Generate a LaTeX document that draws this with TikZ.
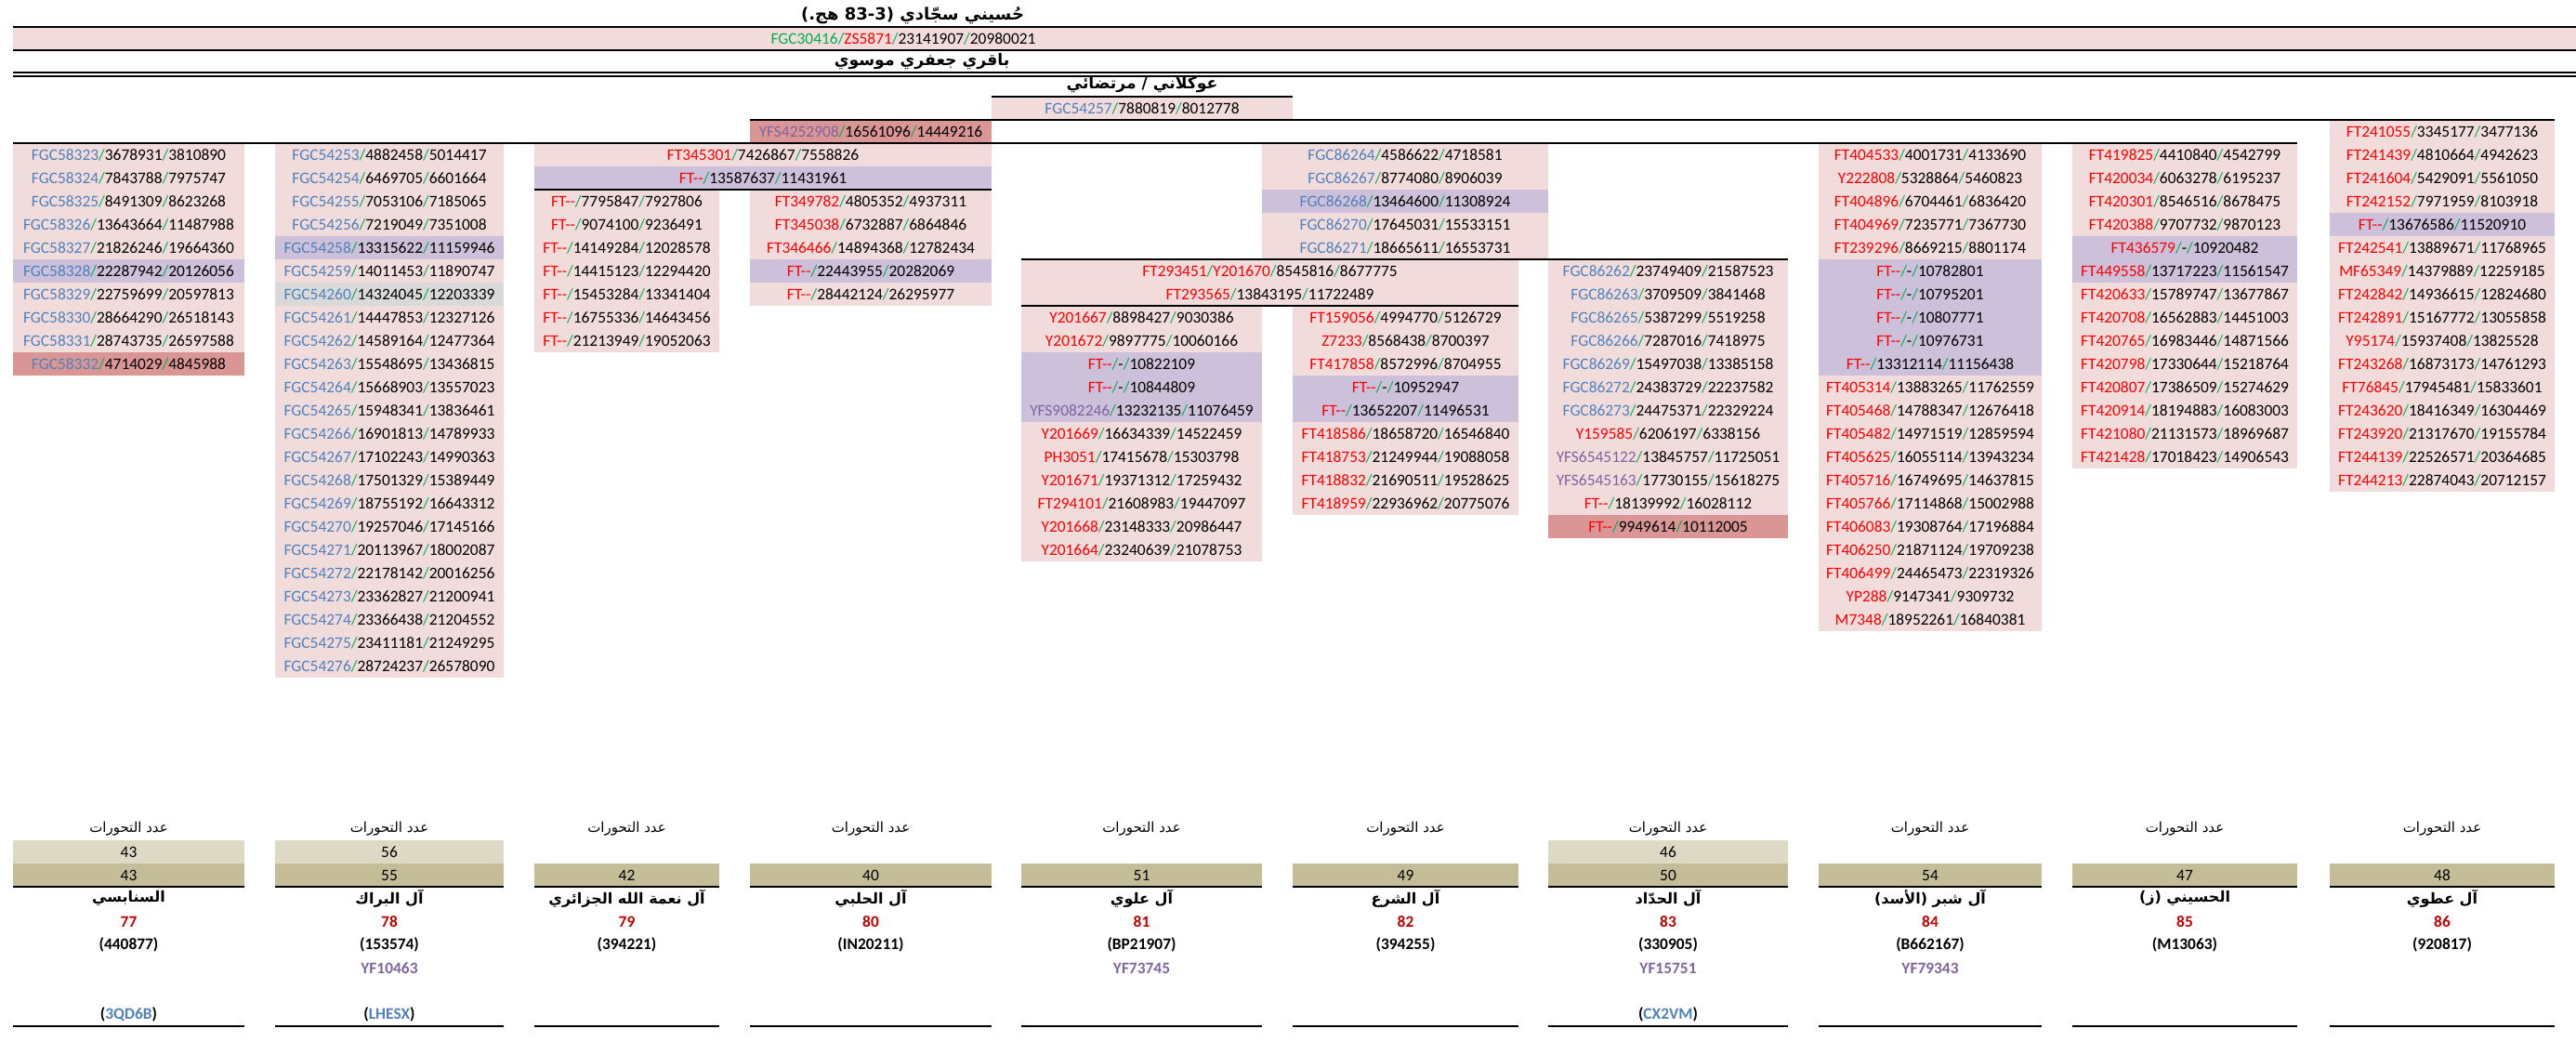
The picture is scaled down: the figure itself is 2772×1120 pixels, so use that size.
\documentclass[tikz,border=0pt]{standalone}
\usepackage{fontspec}
\setmainfont{Carlito}
\newfontfamily\arabicfont[Script=Arabic]{DejaVu Sans}
\TeXXeTstate=1

\definecolor{pinkcell}{HTML}{F2DCDB}
\definecolor{purplecell}{HTML}{CCC0DA}
\definecolor{darkcell}{HTML}{DA9694}
\definecolor{graycell}{HTML}{D9D9D9}
\definecolor{tanlight}{HTML}{DDD9C4}
\definecolor{tandark}{HTML}{C4BD97}
\definecolor{fgcblue}{HTML}{4F81BD}
\definecolor{ftred}{HTML}{FF0000}
\definecolor{slashgreen}{HTML}{00B050}
\definecolor{yfspurple}{HTML}{8064A2}
\definecolor{numred}{HTML}{C00000}

\newcommand{\gs}{\textcolor{slashgreen}{/}}
\newcommand{\fgc}[1]{\textcolor{fgcblue}{#1}}
\newcommand{\ftr}[1]{\textcolor{ftred}{#1}}
\newcommand{\yfs}[1]{\textcolor{yfspurple}{#1}}
\newcommand{\ftn}{\textcolor{ftred}{FT-{}-}}
\newcommand{\arr}[1]{{\arabicfont\beginR #1\endR}}
\newcommand{\arb}[1]{{\arabicfont\bfseries\beginR #1\endR}}

\tikzset{
  cell/.style={inner sep=0pt, minimum height=12.5pt, font=\fontsize{8.7}{10}\selectfont},
  pk/.style={cell, fill=pinkcell},
  pu/.style={cell, fill=purplecell},
  dk/.style={cell, fill=darkcell},
  gy/.style={cell, fill=graycell},
  tl/.style={cell, fill=tanlight},
  td/.style={cell, fill=tandark},
  w1/.style={minimum width=124.5pt},
  w2/.style={minimum width=123pt},
  w3/.style={minimum width=99.5pt},
  w4/.style={minimum width=130pt},
  w34/.style={minimum width=246pt},
  wS45/.style={minimum width=162pt},
  w5/.style={minimum width=129.5pt},
  w6/.style={minimum width=121.5pt},
  w56/.style={minimum width=267.5pt},
  wS56/.style={minimum width=154pt},
  w7/.style={minimum width=129pt},
  w8/.style={minimum width=120pt},
  w9/.style={minimum width=121pt},
  w10/.style={minimum width=121pt},
  rule/.style={line width=1.3pt},
  thinrule/.style={line width=0.6pt},
  arhead/.style={inner sep=0pt, font=\fontsize{7.5}{9}\selectfont},
  tophead/.style={inner sep=0pt, font=\fontsize{8.6}{10}\selectfont},
  clan/.style={inner sep=0pt, font=\fontsize{8}{9}\selectfont},
  num/.style={inner sep=0pt, font=\fontsize{8.7}{10}\selectfont\bfseries, text=numred},
  code/.style={inner sep=0pt, font=\fontsize{8.7}{10}\selectfont\bfseries},
  yf/.style={inner sep=0pt, font=\fontsize{8.7}{10}\selectfont\bfseries, text=yfspurple}
}

\begin{document}
\begin{tikzpicture}[x=0.5pt, y=-0.5pt]
\useasboundingbox (0,0) rectangle (2772,1120);

% Root
\node[tophead, font=\fontsize{9}{10}\selectfont] (t0) at (982,16.5) {\arb{حُسيني سجّادي \hbox{(}\beginL 83-3\endL{} هج.\hbox{)}}};
\fill[pinkcell] (14,29) rectangle (2772,54);
\node[cell] (t1) at (972,41.5) {\textcolor{slashgreen}{FGC30416}\gs\ftr{ZS5871}\gs 23141907\gs 20980021};
\node[tophead] (t2) at (992,66.5) {\arb{باقري جعفري موسوي}};
\node[tophead] (t3) at (1229,91.5) {\arb{عوكلاني / مرتضائي}};
\node[pk, wS45] (t4) at (1229,116.5) {\fgc{FGC54257}\gs 7880819\gs 8012778};
\node[dk, w4] (t5) at (937,141.5) {\yfs{YFS4252908}\gs 16561096\gs 14449216};

% Branch FGC58323
\node[pk, w1] (a1) at (138.5,166.5) {\fgc{FGC58323}\gs 3678931\gs 3810890};
\node[pk, w1] (a2) at (138.5,191.5) {\fgc{FGC58324}\gs 7843788\gs 7975747};
\node[pk, w1] (a3) at (138.5,216.5) {\fgc{FGC58325}\gs 8491309\gs 8623268};
\node[pk, w1] (a4) at (138.5,241.5) {\fgc{FGC58326}\gs 13643664\gs 11487988};
\node[pk, w1] (a5) at (138.5,266.5) {\fgc{FGC58327}\gs 21826246\gs 19664360};
\node[pu, w1] (a6) at (138.5,291.5) {\fgc{FGC58328}\gs 22287942\gs 20126056};
\node[pk, w1] (a7) at (138.5,316.5) {\fgc{FGC58329}\gs 22759699\gs 20597813};
\node[pk, w1] (a8) at (138.5,341.5) {\fgc{FGC58330}\gs 28664290\gs 26518143};
\node[pk, w1] (a9) at (138.5,366.5) {\fgc{FGC58331}\gs 28743735\gs 26597588};
\node[dk, w1] (a10) at (138.5,391.5) {\fgc{FGC58332}\gs 4714029\gs 4845988};

% Branch FGC54253
\node[pk, w2] (b1) at (419,166.5) {\fgc{FGC54253}\gs 4882458\gs 5014417};
\node[pk, w2] (b2) at (419,191.5) {\fgc{FGC54254}\gs 6469705\gs 6601664};
\node[pk, w2] (b3) at (419,216.5) {\fgc{FGC54255}\gs 7053106\gs 7185065};
\node[pk, w2] (b4) at (419,241.5) {\fgc{FGC54256}\gs 7219049\gs 7351008};
\node[pu, w2] (b5) at (419,266.5) {\fgc{FGC54258}\gs 13315622\gs 11159946};
\node[pk, w2] (b6) at (419,291.5) {\fgc{FGC54259}\gs 14011453\gs 11890747};
\node[gy, w2] (b7) at (419,316.5) {\fgc{FGC54260}\gs 14324045\gs 12203339};
\node[pk, w2] (b8) at (419,341.5) {\fgc{FGC54261}\gs 14447853\gs 12327126};
\node[pk, w2] (b9) at (419,366.5) {\fgc{FGC54262}\gs 14589164\gs 12477364};
\node[pk, w2] (b10) at (419,391.5) {\fgc{FGC54263}\gs 15548695\gs 13436815};
\node[pk, w2] (b11) at (419,416.5) {\fgc{FGC54264}\gs 15668903\gs 13557023};
\node[pk, w2] (b12) at (419,441.5) {\fgc{FGC54265}\gs 15948341\gs 13836461};
\node[pk, w2] (b13) at (419,466.5) {\fgc{FGC54266}\gs 16901813\gs 14789933};
\node[pk, w2] (b14) at (419,491.5) {\fgc{FGC54267}\gs 17102243\gs 14990363};
\node[pk, w2] (b15) at (419,516.5) {\fgc{FGC54268}\gs 17501329\gs 15389449};
\node[pk, w2] (b16) at (419,541.5) {\fgc{FGC54269}\gs 18755192\gs 16643312};
\node[pk, w2] (b17) at (419,566.5) {\fgc{FGC54270}\gs 19257046\gs 17145166};
\node[pk, w2] (b18) at (419,591.5) {\fgc{FGC54271}\gs 20113967\gs 18002087};
\node[pk, w2] (b19) at (419,616.5) {\fgc{FGC54272}\gs 22178142\gs 20016256};
\node[pk, w2] (b20) at (419,641.5) {\fgc{FGC54273}\gs 23362827\gs 21200941};
\node[pk, w2] (b21) at (419,666.5) {\fgc{FGC54274}\gs 23366438\gs 21204552};
\node[pk, w2] (b22) at (419,691.5) {\fgc{FGC54275}\gs 23411181\gs 21249295};
\node[pk, w2] (b23) at (419,716.5) {\fgc{FGC54276}\gs 28724237\gs 26578090};

% Branch FT345301
\node[pk, w34] (c0) at (821,166.5) {\ftr{FT345301}\gs 7426867\gs 7558826};
\node[pu, w34] (c00) at (821,191.5) {\ftn\gs 13587637\gs 11431961};
\node[pk, w3] (c1) at (674.5,216.5) {\ftn\gs 7795847\gs 7927806};
\node[pk, w3] (c2) at (674.5,241.5) {\ftn\gs 9074100\gs 9236491};
\node[pk, w3] (c3) at (674.5,266.5) {\ftn\gs 14149284\gs 12028578};
\node[pk, w3] (c4) at (674.5,291.5) {\ftn\gs 14415123\gs 12294420};
\node[pk, w3] (c5) at (674.5,316.5) {\ftn\gs 15453284\gs 13341404};
\node[pk, w3] (c6) at (674.5,341.5) {\ftn\gs 16755336\gs 14643456};
\node[pk, w3] (c7) at (674.5,366.5) {\ftn\gs 21213949\gs 19052063};
\node[pk, w4] (e1) at (937,216.5) {\ftr{FT349782}\gs 4805352\gs 4937311};
\node[pk, w4] (e2) at (937,241.5) {\ftr{FT345038}\gs 6732887\gs 6864846};
\node[pk, w4] (e3) at (937,266.5) {\ftr{FT346466}\gs 14894368\gs 12782434};
\node[pu, w4] (e4) at (937,291.5) {\ftn\gs 22443955\gs 20282069};
\node[pk, w4] (e5) at (937,316.5) {\ftn\gs 28442124\gs 26295977};

% Branch FGC86264
\node[pk, wS56] (d1) at (1512,166.5) {\fgc{FGC86264}\gs 4586622\gs 4718581};
\node[pk, wS56] (d2) at (1512,191.5) {\fgc{FGC86267}\gs 8774080\gs 8906039};
\node[pu, wS56] (d3) at (1512,216.5) {\fgc{FGC86268}\gs 13464600\gs 11308924};
\node[pk, wS56] (d4) at (1512,241.5) {\fgc{FGC86270}\gs 17645031\gs 15533151};
\node[pk, wS56] (d5) at (1512,266.5) {\fgc{FGC86271}\gs 18665611\gs 16553731};
\node[pk, w56] (d6) at (1366.5,291.5) {\ftr{FT293451}\gs\ftr{Y201670}\gs 8545816\gs 8677775};
\node[pk, w56] (d7) at (1366.5,316.5) {\ftr{FT293565}\gs 13843195\gs 11722489};
% Branch Y201667
\node[pk, w5] (f1) at (1228.5,341.5) {\ftr{Y201667}\gs 8898427\gs 9030386};
\node[pk, w5] (f2) at (1228.5,366.5) {\ftr{Y201672}\gs 9897775\gs 10060166};
\node[pu, w5] (f3) at (1228.5,391.5) {\ftn\gs -\gs 10822109};
\node[pu, w5] (f4) at (1228.5,416.5) {\ftn\gs -\gs 10844809};
\node[pu, w5] (f5) at (1228.5,441.5) {\yfs{YFS9082246}\gs 13232135\gs 11076459};
\node[pk, w5] (f6) at (1228.5,466.5) {\ftr{Y201669}\gs 16634339\gs 14522459};
\node[pk, w5] (f7) at (1228.5,491.5) {\ftr{PH3051}\gs 17415678\gs 15303798};
\node[pk, w5] (f8) at (1228.5,516.5) {\ftr{Y201671}\gs 19371312\gs 17259432};
\node[pk, w5] (f9) at (1228.5,541.5) {\ftr{FT294101}\gs 21608983\gs 19447097};
\node[pk, w5] (f10) at (1228.5,566.5) {\ftr{Y201668}\gs 23148333\gs 20986447};
\node[pk, w5] (f11) at (1228.5,591.5) {\ftr{Y201664}\gs 23240639\gs 21078753};
% Branch FT159056
\node[pk, w6] (g1) at (1512.5,341.5) {\ftr{FT159056}\gs 4994770\gs 5126729};
\node[pk, w6] (g2) at (1512.5,366.5) {\ftr{Z7233}\gs 8568438\gs 8700397};
\node[pk, w6] (g3) at (1512.5,391.5) {\ftr{FT417858}\gs 8572996\gs 8704955};
\node[pu, w6] (g4) at (1512.5,416.5) {\ftn\gs -\gs 10952947};
\node[pu, w6] (g5) at (1512.5,441.5) {\ftn\gs 13652207\gs 11496531};
\node[pk, w6] (g6) at (1512.5,466.5) {\ftr{FT418586}\gs 18658720\gs 16546840};
\node[pk, w6] (g7) at (1512.5,491.5) {\ftr{FT418753}\gs 21249944\gs 19088058};
\node[pk, w6] (g8) at (1512.5,516.5) {\ftr{FT418832}\gs 21690511\gs 19528625};
\node[pk, w6] (g9) at (1512.5,541.5) {\ftr{FT418959}\gs 22936962\gs 20775076};

% Branch FGC86262
\node[pk, w7] (h1) at (1795,291.5) {\fgc{FGC86262}\gs 23749409\gs 21587523};
\node[pk, w7] (h2) at (1795,316.5) {\fgc{FGC86263}\gs 3709509\gs 3841468};
\node[pk, w7] (h3) at (1795,341.5) {\fgc{FGC86265}\gs 5387299\gs 5519258};
\node[pk, w7] (h4) at (1795,366.5) {\fgc{FGC86266}\gs 7287016\gs 7418975};
\node[pk, w7] (h5) at (1795,391.5) {\fgc{FGC86269}\gs 15497038\gs 13385158};
\node[pk, w7] (h6) at (1795,416.5) {\fgc{FGC86272}\gs 24383729\gs 22237582};
\node[pk, w7] (h7) at (1795,441.5) {\fgc{FGC86273}\gs 24475371\gs 22329224};
\node[pk, w7] (h8) at (1795,466.5) {\ftr{Y159585}\gs 6206197\gs 6338156};
\node[pk, w7] (h9) at (1795,491.5) {\yfs{YFS6545122}\gs 13845757\gs 11725051};
\node[pk, w7] (h10) at (1795,516.5) {\yfs{YFS6545163}\gs 17730155\gs 15618275};
\node[pk, w7] (h11) at (1795,541.5) {\ftn\gs 18139992\gs 16028112};
\node[dk, w7] (h12) at (1795,566.5) {\ftn\gs 9949614\gs 10112005};

% Branch FT404533
\node[pk, w8] (i1) at (2077,166.5) {\ftr{FT404533}\gs 4001731\gs 4133690};
\node[pk, w8] (i2) at (2077,191.5) {\ftr{Y222808}\gs 5328864\gs 5460823};
\node[pk, w8] (i3) at (2077,216.5) {\ftr{FT404896}\gs 6704461\gs 6836420};
\node[pk, w8] (i4) at (2077,241.5) {\ftr{FT404969}\gs 7235771\gs 7367730};
\node[pk, w8] (i5) at (2077,266.5) {\ftr{FT239296}\gs 8669215\gs 8801174};
\node[pu, w8] (i6) at (2077,291.5) {\ftn\gs -\gs 10782801};
\node[pu, w8] (i7) at (2077,316.5) {\ftn\gs -\gs 10795201};
\node[pu, w8] (i8) at (2077,341.5) {\ftn\gs -\gs 10807771};
\node[pu, w8] (i9) at (2077,366.5) {\ftn\gs -\gs 10976731};
\node[pu, w8] (i10) at (2077,391.5) {\ftn\gs 13312114\gs 11156438};
\node[pk, w8] (i11) at (2077,416.5) {\ftr{FT405314}\gs 13883265\gs 11762559};
\node[pk, w8] (i12) at (2077,441.5) {\ftr{FT405468}\gs 14788347\gs 12676418};
\node[pk, w8] (i13) at (2077,466.5) {\ftr{FT405482}\gs 14971519\gs 12859594};
\node[pk, w8] (i14) at (2077,491.5) {\ftr{FT405625}\gs 16055114\gs 13943234};
\node[pk, w8] (i15) at (2077,516.5) {\ftr{FT405716}\gs 16749695\gs 14637815};
\node[pk, w8] (i16) at (2077,541.5) {\ftr{FT405766}\gs 17114868\gs 15002988};
\node[pk, w8] (i17) at (2077,566.5) {\ftr{FT406083}\gs 19308764\gs 17196884};
\node[pk, w8] (i18) at (2077,591.5) {\ftr{FT406250}\gs 21871124\gs 19709238};
\node[pk, w8] (i19) at (2077,616.5) {\ftr{FT406499}\gs 24465473\gs 22319326};
\node[pk, w8] (i20) at (2077,641.5) {\ftr{YP288}\gs 9147341\gs 9309732};
\node[pk, w8] (i21) at (2077,666.5) {\ftr{M7348}\gs 18952261\gs 16840381};

% Branch FT419825
\node[pk, w9] (j1) at (2351,166.5) {\ftr{FT419825}\gs 4410840\gs 4542799};
\node[pk, w9] (j2) at (2351,191.5) {\ftr{FT420034}\gs 6063278\gs 6195237};
\node[pk, w9] (j3) at (2351,216.5) {\ftr{FT420301}\gs 8546516\gs 8678475};
\node[pk, w9] (j4) at (2351,241.5) {\ftr{FT420388}\gs 9707732\gs 9870123};
\node[pu, w9] (j5) at (2351,266.5) {\ftr{FT436579}\gs -\gs 10920482};
\node[pu, w9] (j6) at (2351,291.5) {\ftr{FT449558}\gs 13717223\gs 11561547};
\node[pk, w9] (j7) at (2351,316.5) {\ftr{FT420633}\gs 15789747\gs 13677867};
\node[pk, w9] (j8) at (2351,341.5) {\ftr{FT420708}\gs 16562883\gs 14451003};
\node[pk, w9] (j9) at (2351,366.5) {\ftr{FT420765}\gs 16983446\gs 14871566};
\node[pk, w9] (j10) at (2351,391.5) {\ftr{FT420798}\gs 17330644\gs 15218764};
\node[pk, w9] (j11) at (2351,416.5) {\ftr{FT420807}\gs 17386509\gs 15274629};
\node[pk, w9] (j12) at (2351,441.5) {\ftr{FT420914}\gs 18194883\gs 16083003};
\node[pk, w9] (j13) at (2351,466.5) {\ftr{FT421080}\gs 21131573\gs 18969687};
\node[pk, w9] (j14) at (2351,491.5) {\ftr{FT421428}\gs 17018423\gs 14906543};

% Branch FT241055
\node[pk, w10] (k1) at (2628,141.5) {\ftr{FT241055}\gs 3345177\gs 3477136};
\node[pk, w10] (k2) at (2628,166.5) {\ftr{FT241439}\gs 4810664\gs 4942623};
\node[pk, w10] (k3) at (2628,191.5) {\ftr{FT241604}\gs 5429091\gs 5561050};
\node[pk, w10] (k4) at (2628,216.5) {\ftr{FT242152}\gs 7971959\gs 8103918};
\node[pu, w10] (k5) at (2628,241.5) {\ftn\gs 13676586\gs 11520910};
\node[pk, w10] (k6) at (2628,266.5) {\ftr{FT242541}\gs 13889671\gs 11768965};
\node[pk, w10] (k7) at (2628,291.5) {\ftr{MF65349}\gs 14379889\gs 12259185};
\node[pk, w10] (k8) at (2628,316.5) {\ftr{FT242842}\gs 14936615\gs 12824680};
\node[pk, w10] (k9) at (2628,341.5) {\ftr{FT242891}\gs 15167772\gs 13055858};
\node[pk, w10] (k10) at (2628,366.5) {\ftr{Y95174}\gs 15937408\gs 13825528};
\node[pk, w10] (k11) at (2628,391.5) {\ftr{FT243268}\gs 16873173\gs 14761293};
\node[pk, w10] (k12) at (2628,416.5) {\ftr{FT76845}\gs 17945481\gs 15833601};
\node[pk, w10] (k13) at (2628,441.5) {\ftr{FT243620}\gs 18416349\gs 16304469};
\node[pk, w10] (k14) at (2628,466.5) {\ftr{FT243920}\gs 21317670\gs 19155784};
\node[pk, w10] (k15) at (2628,491.5) {\ftr{FT244139}\gs 22526571\gs 20364685};
\node[pk, w10] (k16) at (2628,516.5) {\ftr{FT244213}\gs 22874043\gs 20712157};

% Rules
\draw[rule] (14,29) -- (2772,29);
\draw[rule] (14,54) -- (2772,54);
\draw[thinrule] (14,78) -- (2772,78);
\draw[thinrule] (14,82) -- (2772,82);
\draw[rule] (1067,104) -- (1391,104);
\draw[rule] (807,129) -- (2749,129);
\draw[rule] (14,154) -- (2472,154);
\draw[rule] (575,204) -- (1067,204);
\draw[rule] (1099,279) -- (1924,279);
\draw[rule] (1099,329) -- (1634,329);

% Clans
\node[arhead] (m1) at (138.5,891.5) {\arr{عدد التحورات}};
\node[tl, w1] (l1) at (138.5,916.5) {43};
\node[td, w1] (s1) at (138.5,941.5) {43};
\draw[thinrule] (14,954) -- (263,954);
\node[clan] (n1) at (138.5,966.5) {\arb{السنابسي}};
\node[num] (r1) at (138.5,991.5) {77};
\node[code] (o1) at (138.5,1016.5) {(440877)};
\node[code] (q1) at (138.5,1091.5) {(\textcolor{fgcblue}{3QD6B})};
\draw[thinrule] (14,1104) -- (263,1104);

\node[arhead] (m2) at (419,891.5) {\arr{عدد التحورات}};
\node[tl, w2] (l2) at (419,916.5) {56};
\node[td, w2] (s2) at (419,941.5) {55};
\draw[thinrule] (296,954) -- (542,954);
\node[clan] (n2) at (419,966.5) {\arb{آل البراك}};
\node[num] (r2) at (419,991.5) {78};
\node[code] (o2) at (419,1016.5) {(153574)};
\node[yf] (y2) at (419,1041.5) {YF10463};
\node[code] (q2) at (419,1091.5) {(\textcolor{fgcblue}{LHESX})};
\draw[thinrule] (296,1104) -- (542,1104);

\node[arhead] (m3) at (674.5,891.5) {\arr{عدد التحورات}};
\node[td, w3] (s3) at (674.5,941.5) {42};
\draw[thinrule] (575,954) -- (774,954);
\node[clan] (n3) at (674.5,966.5) {\arb{آل نعمة الله الجزائري}};
\node[num] (r3) at (674.5,991.5) {79};
\node[code] (o3) at (674.5,1016.5) {(394221)};
\draw[thinrule] (575,1104) -- (774,1104);

\node[arhead] (m4) at (937,891.5) {\arr{عدد التحورات}};
\node[td, w4] (s4) at (937,941.5) {40};
\draw[thinrule] (807,954) -- (1067,954);
\node[clan] (n4) at (937,966.5) {\arb{آل الحلبي}};
\node[num] (r4) at (937,991.5) {80};
\node[code] (o4) at (937,1016.5) {(IN20211)};
\draw[thinrule] (807,1104) -- (1067,1104);

\node[arhead] (m5) at (1228.5,891.5) {\arr{عدد التحورات}};
\node[td, w5] (s5) at (1228.5,941.5) {51};
\draw[thinrule] (1099,954) -- (1358,954);
\node[clan] (n5) at (1228.5,966.5) {\arb{آل علوي}};
\node[num] (r5) at (1228.5,991.5) {81};
\node[code] (o5) at (1228.5,1016.5) {(BP21907)};
\node[yf] (y5) at (1228.5,1041.5) {YF73745};
\draw[thinrule] (1099,1104) -- (1358,1104);

\node[arhead] (m6) at (1512.5,891.5) {\arr{عدد التحورات}};
\node[td, w6] (s6) at (1512.5,941.5) {49};
\draw[thinrule] (1391,954) -- (1634,954);
\node[clan] (n6) at (1512.5,966.5) {\arb{آل الشرع}};
\node[num] (r6) at (1512.5,991.5) {82};
\node[code] (o6) at (1512.5,1016.5) {(394255)};
\draw[thinrule] (1391,1104) -- (1634,1104);

\node[arhead] (m7) at (1795,891.5) {\arr{عدد التحورات}};
\node[tl, w7] (l7) at (1795,916.5) {46};
\node[td, w7] (s7) at (1795,941.5) {50};
\draw[thinrule] (1666,954) -- (1924,954);
\node[clan] (n7) at (1795,966.5) {\arb{آل الحدّاد}};
\node[num] (r7) at (1795,991.5) {83};
\node[code] (o7) at (1795,1016.5) {(330905)};
\node[yf] (y7) at (1795,1041.5) {YF15751};
\node[code] (q7) at (1795,1091.5) {(\textcolor{fgcblue}{CX2VM})};
\draw[thinrule] (1666,1104) -- (1924,1104);

\node[arhead] (m8) at (2077,891.5) {\arr{عدد التحورات}};
\node[td, w8] (s8) at (2077,941.5) {54};
\draw[thinrule] (1957,954) -- (2197,954);
\node[clan] (n8) at (2077,966.5) {\arb{آل شبر (الأسد)}};
\node[num] (r8) at (2077,991.5) {84};
\node[code] (o8) at (2077,1016.5) {(B662167)};
\node[yf] (y8) at (2077,1041.5) {YF79343};
\draw[thinrule] (1957,1104) -- (2197,1104);

\node[arhead] (m9) at (2351,891.5) {\arr{عدد التحورات}};
\node[td, w9] (s9) at (2351,941.5) {47};
\draw[thinrule] (2230,954) -- (2472,954);
\node[clan] (n9) at (2351,966.5) {\arb{الحسيني (ز)}};
\node[num] (r9) at (2351,991.5) {85};
\node[code] (o9) at (2351,1016.5) {(M13063)};
\draw[thinrule] (2230,1104) -- (2472,1104);

\node[arhead] (m10) at (2628,891.5) {\arr{عدد التحورات}};
\node[td, w10] (s10) at (2628,941.5) {48};
\draw[thinrule] (2507,954) -- (2749,954);
\node[clan] (n10) at (2628,966.5) {\arb{آل عطوي}};
\node[num] (r10) at (2628,991.5) {86};
\node[code] (o10) at (2628,1016.5) {(920817)};
\draw[thinrule] (2507,1104) -- (2749,1104);
\end{tikzpicture}
\end{document}
